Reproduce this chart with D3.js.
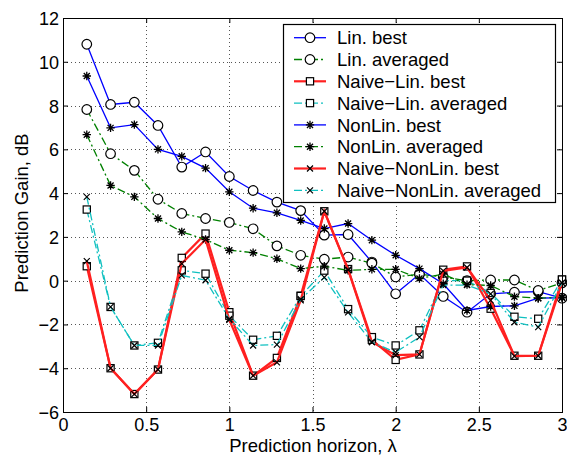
<!DOCTYPE html>
<html>
<head>
<meta charset="utf-8">
<script src="https://cdn.jsdelivr.net/npm/d3@7"></script>
<style>
  body { margin: 0; background: #fff; }
  svg text { font-family: "Liberation Sans", Arial, Helvetica, sans-serif; }
</style>
</head>
<body>
<div id="chart"></div>
<script>
(() => {

// prediction horizon (lambda)
const horizon = [0.143, 0.286, 0.429, 0.571, 0.714, 0.857, 1.0, 1.143, 1.286, 1.429, 1.571,
                 1.714, 1.857, 2.0, 2.143, 2.286, 2.429, 2.571, 2.714, 2.857, 3.0];

// prediction gain, dB
const linBest = [10.8, 8.05, 8.15, 7.09, 5.19, 5.88, 4.76, 4.12, 3.59, 3.2, 2.08,
                 2.11, 0.85, -0.6, 0.3, -0.72, -1.44, -0.6, -0.53, -0.5, -0.8];
const linAvg = [7.82, 5.8, 5.04, 3.72, 3.07, 2.84, 2.66, 2.37, 1.59, 1.16, 0.98,
                1.08, 0.8, 0.17, 0.3, 0.17, 0.0, 0.03, 0.03, -0.45, -0.1];
const naiveLinBest = [0.66, -4.0, -5.18, -4.06, 1.04, 2.15, -1.44, -4.34, -3.53, -0.69, 3.17,
                      0.53, -2.7, -3.62, -3.37, 0.5, 0.65, -1.28, -3.43, -3.43, 0.05];
const naiveLinAvg = [3.25, -1.2, -2.96, -2.84, 0.47, 0.32, -1.6, -2.7, -2.52, -0.7, 0.46,
                     -1.3, -2.58, -2.96, -2.27, 0.0, 0.0, -0.56, -1.65, -1.74, 0.05];
const nonLinBest = [9.35, 6.98, 7.13, 6.0, 5.68, 5.14, 4.06, 3.31, 3.1, 2.75, 2.38,
                    2.61, 1.85, 1.16, 0.55, -0.14, -1.36, -1.18, -1.15, -0.8, -0.78];
const nonLinAvg = [6.67, 4.35, 3.83, 2.84, 2.23, 1.88, 1.39, 1.28, 1.0, 0.55, 0.66,
                   0.47, 0.52, 0.52, 0.1, 0.3, -0.18, -0.22, -0.73, -0.8, -0.75];
const naiveNonLinBest = [0.89, -4.0, -5.18, -4.06, 0.78, 1.88, -1.79, -4.34, -3.73, -0.9, 3.17,
                         0.5, -2.8, -3.4, -3.37, 0.45, 0.6, -0.9, -3.45, -3.43, -0.1];
const naiveNonLinAvg = [3.83, -1.2, -2.96, -2.96, 0.24, 0.02, -1.75, -2.96, -2.92, -0.85, 0.15,
                        -1.45, -2.81, -3.27, -2.58, -0.2, -0.2, -0.6, -1.9, -2.12, -0.1];

const seriesNames = ["Lin. best", "Lin. averaged", "Naive\u2212Lin. best", "Naive\u2212Lin. averaged",
                     "NonLin. best", "NonLin. averaged", "Naive\u2212NonLin. best", "Naive\u2212NonLin. averaged"];

const xTicks = [0, 0.5, 1, 1.5, 2, 2.5, 3];
const yTicks = [-6, -4, -2, 0, 2, 4, 6, 8, 10, 12];

// style per series (same order as names)
const styles = [
  { values: linBest,         color: "#0000ff", width: 1.3, dash: null,       marker: "circle" },
  { values: linAvg,          color: "#008000", width: 1.3, dash: "8,3,2,3",  marker: "circle" },
  { values: naiveLinBest,    color: "#ff2020", width: 2.2, dash: null,       marker: "square" },
  { values: naiveLinAvg,     color: "#10c0c0", width: 1.3, dash: "8,3,2,3",  marker: "square" },
  { values: nonLinBest,      color: "#0000ff", width: 1.3, dash: null,       marker: "star" },
  { values: nonLinAvg,       color: "#008000", width: 1.3, dash: "8,3,2,3",  marker: "star" },
  { values: naiveNonLinBest, color: "#ff2020", width: 2.2, dash: null,       marker: "cross" },
  { values: naiveNonLinAvg,  color: "#10c0c0", width: 1.3, dash: "8,3,2,3",  marker: "cross" }
];

const W = 567, H = 456;
const left = 63, right = 562, top = 18, bottom = 412;

const svg = d3.select("#chart").append("svg")
  .attr("width", W).attr("height", H);

const x = d3.scaleLinear().domain([0, 3]).range([left, right]);
const y = d3.scaleLinear().domain([-6, 12]).range([bottom, top]);

// grid
const grid = svg.append("g")
  .attr("stroke", "#555").attr("stroke-width", 1).attr("stroke-dasharray", "1,3");
grid.selectAll(".gx").data(xTicks.slice(1, -1)).enter().append("line")
  .attr("x1", d => Math.round(x(d)) + 0.5).attr("x2", d => Math.round(x(d)) + 0.5)
  .attr("y1", top).attr("y2", bottom);
grid.selectAll(".gy").data(yTicks.slice(1, -1)).enter().append("line")
  .attr("y1", d => Math.round(y(d)) + 0.5).attr("y2", d => Math.round(y(d)) + 0.5)
  .attr("x1", left).attr("x2", right);

// axes with inward ticks, mirrored on top / right
const axB = svg.append("g").attr("transform", `translate(0,${bottom})`)
  .call(d3.axisBottom(x).tickValues(xTicks).tickSizeInner(-5).tickSizeOuter(0).tickPadding(2)
    .tickFormat(d3.format("")));
const axL = svg.append("g").attr("transform", `translate(${left},0)`)
  .call(d3.axisLeft(y).tickValues(yTicks).tickSizeInner(-5).tickSizeOuter(0).tickPadding(4)
    .tickFormat(d => d < 0 ? "\u2212" + Math.abs(d) : d));
const axT = svg.append("g").attr("transform", `translate(0,${top})`)
  .call(d3.axisTop(x).tickValues(xTicks).tickSizeInner(-5).tickSizeOuter(0).tickFormat(""));
const axR = svg.append("g").attr("transform", `translate(${right},0)`)
  .call(d3.axisRight(y).tickValues(yTicks).tickSizeInner(-5).tickSizeOuter(0).tickFormat(""));

[axB, axL, axT, axR].forEach(a => {
  a.select(".domain").attr("stroke", "#000").attr("stroke-width", 1);
  a.selectAll(".tick line").attr("stroke", "#000");
  a.selectAll("text").attr("fill", "#000").style("font-size", "18px");
});
axB.selectAll("text").attr("dy", "0.95em");
axL.selectAll("text").attr("dy", "0.36em");

// lines
const line = d3.line().x((d, i) => x(horizon[i])).y(d => y(d));

function drawMarker(g, type, cx, cy) {
  if (type === "circle") {
    g.append("circle").attr("cx", cx).attr("cy", cy).attr("r", 4.8)
      .attr("fill", "#fff").attr("stroke", "#000").attr("stroke-width", 1.2);
  } else if (type === "square") {
    g.append("rect").attr("x", cx - 3.6).attr("y", cy - 3.6).attr("width", 7.2).attr("height", 7.2)
      .attr("fill", "#fff").attr("stroke", "#000").attr("stroke-width", 1.2);
  } else if (type === "cross") {
    const s = 3;
    g.append("path").attr("d", `M${cx - s},${cy - s}L${cx + s},${cy + s}M${cx - s},${cy + s}L${cx + s},${cy - s}`)
      .attr("stroke", "#000").attr("stroke-width", 1.2).attr("fill", "none");
  } else if (type === "star") {
    const s = 4.2, d = s * 0.72;
    g.append("path")
      .attr("d", `M${cx - s},${cy}L${cx + s},${cy}M${cx},${cy - s}L${cx},${cy + s}` +
                 `M${cx - d},${cy - d}L${cx + d},${cy + d}M${cx - d},${cy + d}L${cx + d},${cy - d}`)
      .attr("stroke", "#000").attr("stroke-width", 1.3).attr("fill", "none");
  }
}

styles.forEach(s => {
  const g = svg.append("g");
  g.append("path").datum(s.values).attr("d", line)
    .attr("fill", "none").attr("stroke", s.color).attr("stroke-width", s.width)
    .attr("stroke-dasharray", s.dash);
  s.values.forEach((v, i) => drawMarker(g, s.marker, x(horizon[i]), y(v)));
});

// box on top of everything in plot
svg.append("rect").attr("x", left + 0.5).attr("y", top + 0.5)
  .attr("width", right - left).attr("height", bottom - top)
  .attr("fill", "none").attr("stroke", "#000").attr("stroke-width", 1);

// legend
const lg = svg.append("g");
lg.append("rect").attr("x", 283.5).attr("y", 24.5).attr("width", 272).attr("height", 178)
  .attr("fill", "#fff").attr("stroke", "#000").attr("stroke-width", 1.2);
seriesNames.forEach((name, i) => {
  const s = styles[i];
  const cy = 37.7 + i * 21.8;
  lg.append("line").attr("x1", 294).attr("x2", 326).attr("y1", cy).attr("y2", cy)
    .attr("stroke", s.color).attr("stroke-width", s.width).attr("stroke-dasharray", s.dash);
  drawMarker(lg, s.marker, 310, cy);
  lg.append("text").attr("x", 337).attr("y", cy).attr("dy", "0.36em")
    .style("font-size", "18.5px").attr("fill", "#000").text(name);
});

// axis labels
svg.append("text").attr("x", 313).attr("y", 452).attr("text-anchor", "middle")
  .style("font-size", "18.5px").text("Prediction horizon, \u03bb");
svg.append("text").attr("transform", "translate(28,213) rotate(-90)").attr("text-anchor", "middle")
  .style("font-size", "18.5px").text("Prediction Gain, dB");

})();
</script>
</body>
</html>
